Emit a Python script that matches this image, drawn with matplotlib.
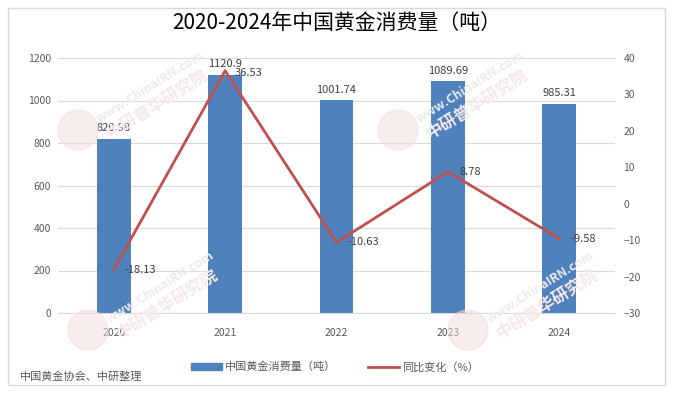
import matplotlib.pyplot as plt
from matplotlib.patches import Rectangle, Ellipse

plt.rcParams['font.family'] = ['Noto Sans CJK SC', 'DejaVu Sans']

years = ['2020', '2021', '2022', '2023', '2024']
consumption = [820.98, 1120.9, 1001.74, 1089.69, 985.31]
yoy = [-18.13, 36.53, -10.63, 8.78, -9.58]
yoy_labels = ['-18.13', '36.53', '-10.63', '8.78', '-9.58']

bar_color = '#4F81BD'
line_color = '#C0504D'
text_color = '#595959'

fig = plt.figure(figsize=(6.73, 3.93), dpi=100)
fig.patches.append(Rectangle((8 / 673, 8 / 393), 657 / 673, 377 / 393, transform=fig.transFigure,
                             fill=False, edgecolor='#D9D9D9', linewidth=1))

# faint watermarks
for wx, wy in [(150, 95), (470, 95), (160, 295), (540, 295)]:
    fig.patches.append(Ellipse(((wx - 72) / 673, 1 - (wy + 35) / 393), 40 / 673, 40 / 393,
                               transform=fig.transFigure, color='#F5DADA', alpha=0.5, zorder=0))
    fig.text(wx / 673, 1 - (wy - 8) / 393, 'www.ChinaIRN.com', rotation=32, ha='center', va='center',
             fontsize=9, fontweight='bold', color='#EBEBEB', zorder=0)
    fig.text((wx + 8) / 673, 1 - (wy + 10) / 393, '中研普华研究院', rotation=32, ha='center', va='center',
             fontsize=12, fontweight='bold', color='#F5E8E8', zorder=0)

ax = fig.add_axes([58 / 673, 80 / 393, 557 / 673, 255 / 393])
ax.patch.set_alpha(0)
x = range(len(years))
bars = ax.bar(x, consumption, width=0.305, color=bar_color, zorder=2)
ax.set_xlim(-0.5, 4.5)
ax.set_ylim(0, 1200)
ax.set_yticks(range(0, 1201, 200))
ax.set_xticks(list(x))
ax.set_xticklabels(years)
ax.grid(axis='y', color='#D9D9D9', linewidth=0.8, zorder=0)
for s in ['top', 'left', 'right']:
    ax.spines[s].set_visible(False)
ax.spines['bottom'].set_color('#D9D9D9')
ax.tick_params(length=0, labelsize=7.5, colors=text_color, pad=11)
ax.tick_params(axis='y', pad=5)
for i, v in enumerate(consumption):
    ax.annotate(f'{v:g}', (i, v), xytext=(0, 4), textcoords='offset points',
                ha='center', va='bottom', fontsize=8, color='#404040')

ax2 = ax.twinx()
ax2.plot(list(x), yoy, color=line_color, linewidth=2, zorder=3)
ax2.set_ylim(-30, 40)
ax2.set_yticks(range(-30, 41, 10))
for s in ax2.spines:
    ax2.spines[s].set_visible(False)
ax2.tick_params(length=0, labelsize=7.5, colors=text_color, pad=6)
offsets = [(8, 0), (7, -2), (8, 0), (8, 0), (8, 0)]
for i, v in enumerate(yoy):
    ax2.annotate(yoy_labels[i], (i, v), xytext=offsets[i], textcoords='offset points',
                 ha='left', va='center', fontsize=8, color='#404040')

fig.text(0.5, 1 - 23 / 393, '2020-2024年中国黄金消费量（吨）', ha='center', va='center',
         fontsize=15, fontweight='medium', color='#000000')

h1 = Rectangle((0, 0), 1, 1, color=bar_color)
h2, = ax2.plot([], [], color=line_color, linewidth=2)
fig.legend([h1, h2], ['中国黄金消费量（吨）', '同比变化（%）'], loc='center',
           bbox_to_anchor=(335 / 673, 1 - 367 / 393), ncol=2, frameon=False,
           fontsize=8, handlelength=2.8, handleheight=0.6, handletextpad=0.3,
           columnspacing=2.8, labelcolor=text_color)

fig.text(20 / 673, 1 - 377 / 393, '中国黄金协会、中研整理', ha='left', va='center',
         fontsize=8, color=text_color)

fig.savefig('out.png', dpi=100)
